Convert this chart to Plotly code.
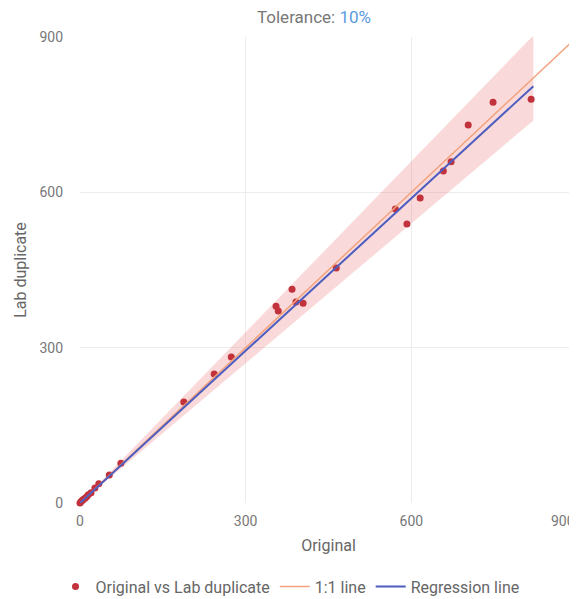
import plotly.graph_objects as go

original = [0, 2, 4, 6, 9, 12, 15, 20, 27, 34, 53, 74, 188, 243, 274, 355, 359, 384, 391, 404, 464, 571, 592, 616, 658, 672, 703, 748, 817]
duplicate = [0, 3, 5, 7, 9, 12, 16, 20, 29, 37, 54, 77, 195, 249, 282, 380, 371, 413, 388, 386, 454, 568, 539, 589, 641, 659, 730, 774, 780]

tick_vals = [0, 300, 600, 900]
tick_text = ["0", "300", "600", "900"]

band_x = [0, 821]
tolerance = 0.10
reg_x = [0, 821]
reg_y = [0, 805]
one_x = [0, 910]

W, H = 569, 591  # page has an 8px body margin
L, R, T, B = 72, 0, 29, 96
PW = W - L - R

fig = go.Figure()
fig.add_trace(go.Scatter(x=band_x + band_x[::-1],
                         y=[v * (1 + tolerance) for v in band_x] + [v * (1 - tolerance) for v in band_x[::-1]],
                         mode="lines", fill="toself", fillcolor="rgba(232,120,120,0.28)", line=dict(width=0),
                         hoverinfo="skip", showlegend=False))
fig.add_trace(go.Scatter(x=original, y=duplicate, mode="markers", name="Original vs Lab duplicate",
                         marker=dict(color="#c2323c", size=7), cliponaxis=False))
fig.add_trace(go.Scatter(x=one_x, y=one_x, mode="lines", name="1:1 line",
                         line=dict(color="#f2a27c", width=1.5)))
fig.add_trace(go.Scatter(x=reg_x, y=reg_y, mode="lines", name="Regression line",
                         line=dict(color="#4c5cbf", width=2)))

# last x tick label sits at the right edge; right-align it so it stays visible
fig.add_annotation(x=tick_vals[-1], xref="x", y=0, yref="paper", text=tick_text[-1],
                   xanchor="right", yanchor="middle", yshift=-18, showarrow=False,
                   font=dict(size=14, color="#777777"))

fig.update_layout(
    width=W, height=H,
    margin=dict(l=L, r=R, t=T, b=B, autoexpand=False),
    paper_bgcolor="white", plot_bgcolor="white",
    font=dict(family="Roboto, Open Sans, sans-serif", color="#777777", size=14),
    title=dict(text="Tolerance: <span style='color:#5b9be0'>10%</span>", x=306 / W, xanchor="center",
               xref="container", y=1 - 9 / H, yanchor="middle", yref="container",
               font=dict(size=17, color="#777777")),
    xaxis=dict(range=[0, 900], tickvals=tick_vals, ticktext=tick_text[:-1] + [""], showgrid=True,
               gridcolor="#ececec", zeroline=False, showline=False, ticks="", automargin=False,
               tickfont=dict(size=14), ticklabelstandoff=8,
               title=dict(text="Original", font=dict(size=16, color="#666666"), standoff=11)),
    yaxis=dict(range=[0, 900], tickvals=tick_vals, ticktext=tick_text, showgrid=True, gridcolor="#ececec",
               zeroline=False, showline=False, ticks="", automargin=False, tickfont=dict(size=14),
               ticklabelstandoff=16,
               title=dict(text="Lab duplicate", font=dict(size=16, color="#666666"), standoff=8)),
    legend=dict(orientation="h", x=(282 - L) / PW, xanchor="center", y=-0.143, yanchor="top",
                font=dict(size=16, color="#666666")),
)
fig.write_html("out.html")
